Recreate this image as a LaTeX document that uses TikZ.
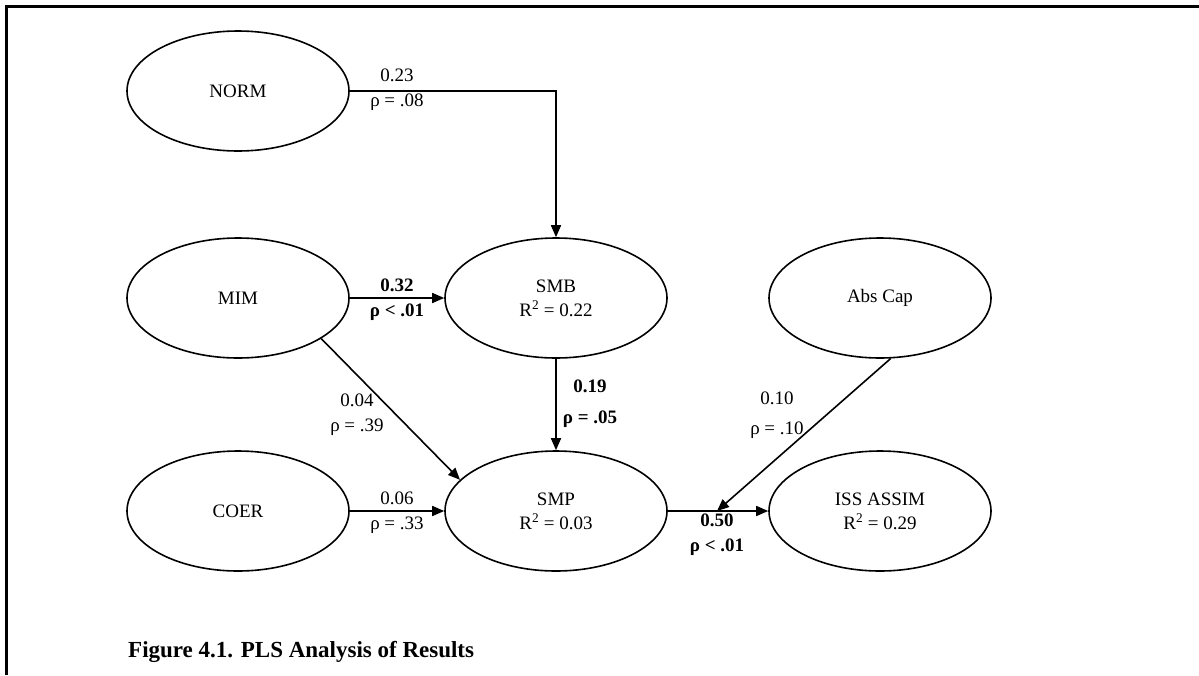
\documentclass[tikz,border=0pt]{standalone}
\usepackage{fontspec}
\setmainfont{Liberation Serif}
\usetikzlibrary{arrows.meta,shapes.geometric}
\begin{document}
\begin{tikzpicture}[x=1pt,y=-1pt,
  construct/.style={draw, line width=1.6pt, ellipse, minimum width=222pt,
    minimum height=120pt, inner sep=0pt, align=center,
    font=\fontsize{19}{24}\selectfont},
  pathline/.style={draw, line width=1.6pt, -{Triangle[length=12pt,width=10pt]}},
  coef/.style={align=center, inner sep=0pt, font=\fontsize{19}{25}\selectfont},
  sig/.style={coef, font=\bfseries\fontsize{19}{25}\selectfont}]
\useasboundingbox (0,0) rectangle (1199,675);

% frame: top and left rules
\draw[line width=2.5pt] (6.25,675) -- (6.25,6.25) -- (1199,6.25);

% constructs
\node[construct] (norm)   at (238,91)  {NORM};
\node[construct] (mim)    at (238,298) {MIM};
\node[construct] (coer)   at (238,511) {COER};
\node[construct] (smb)    at (556,298) {SMB\\R\textsuperscript{2} = 0.22};
\node[construct] (smp)    at (556,511) {SMP\\R\textsuperscript{2} = 0.03};
\node[construct] (abscap) at (880,298) {Abs Cap};
\node[construct] (iss)    at (880,511) {ISS ASSIM\\R\textsuperscript{2} = 0.29};

% structural paths
\draw[pathline] (norm.east) -| (smb.north);
\draw[pathline] (mim) -- (smb);
\draw[pathline] (mim.-26) -- (smp.162);
\draw[pathline] (smb) -- (smp);
\draw[pathline] (coer) -- (smp);
\draw[pathline] (smp) -- (iss);
\coordinate (join) at (717,511);
\draw[pathline] (abscap.-80) -- (join);

% path coefficients
\node[coef] (c1) at (397,90)  {0.23\\ρ = .08};
\node[sig]  (c2) at (397,300) {0.32\\ρ < .01};
\node[coef] (c3) at (357,415) {0.04\\ρ = .39};
\node[sig]  (c4) at (590,404) {0.19\\[6pt]ρ = .05};
\node[coef] (c5) at (397,513) {0.06\\ρ = .33};
\node[coef] (c6) at (777,415) {0.10\\[5pt]ρ = .10};
\node[sig]  (c7) at (717,535) {0.50\\ρ < .01};

% caption
\node[anchor=west, inner sep=0pt, font=\bfseries\fontsize{23}{27}\selectfont]
  (caption) at (128,652) {Figure 4.1. PLS Analysis of Results};
\end{tikzpicture}
\end{document}
